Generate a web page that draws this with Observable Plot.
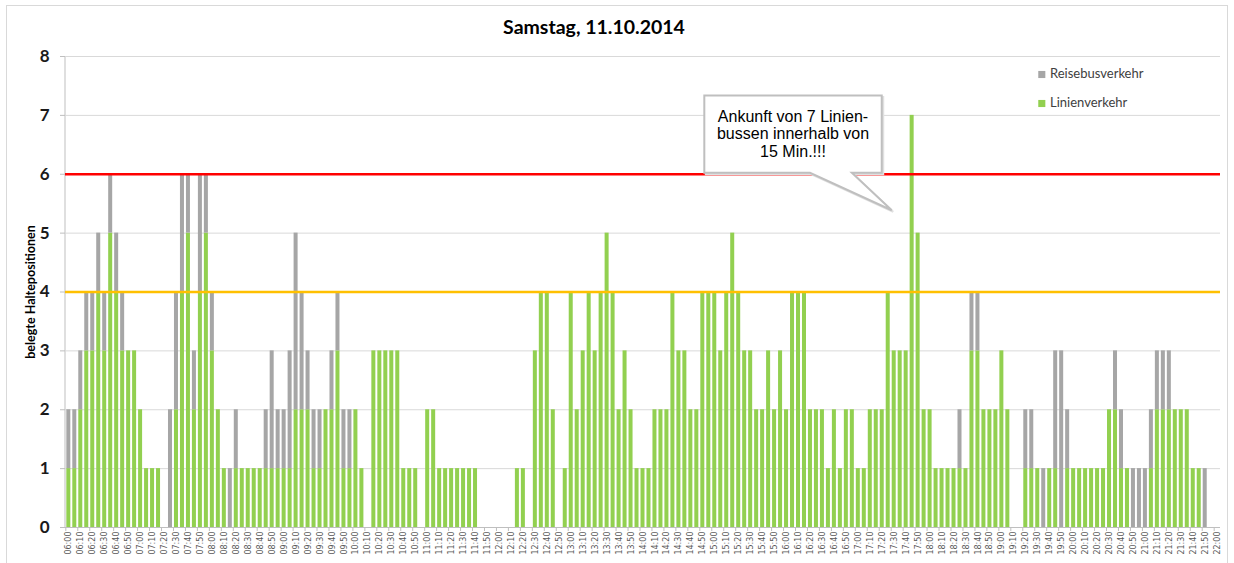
<!DOCTYPE html>
<html>
<head>
<meta charset="utf-8">
<script src="https://cdn.jsdelivr.net/npm/d3@7"></script>
<script src="https://cdn.jsdelivr.net/npm/@observablehq/plot@0.6"></script>
<style>
html, body { margin: 0; padding: 0; background: #fff; }
#chart { width: 1234px; height: 563px; overflow: hidden; }
</style>
</head>
<body>
<div id="chart"></div>
<script>
// ---------- data ----------
const title = "Samstag, 11.10.2014";
const yLabel = "belegte Haltepositionen";
const seriesNames = ["Linienverkehr", "Reisebusverkehr"];
const seriesColors = ["#92D050", "#A6A6A6"];
const legendOrder = ["Reisebusverkehr", "Linienverkehr"];
const yTicks = [0, 1, 2, 3, 4, 5, 6, 7, 8];
const limitRed = 6;
const limitOrange = 4;

// categories: 5-minute slots 06:00 … 22:00
const times = [];
for (let m = 6 * 60; m <= 22 * 60; m += 5) {
  times.push(String(Math.floor(m / 60)).padStart(2, "0") + ":" + String(m % 60).padStart(2, "0"));
}
const labelTimes = times.filter((t, i) => i % 2 === 0);

// Linienverkehr (green), one value per 5-minute slot, grouped by hour
const linien = [
  1,1,2,3,3,4,3,5,4,3,3,3,   // 06
  2,1,1,1,0,0,2,4,5,2,4,5,   // 07
  3,2,1,0,1,1,1,1,1,1,1,1,   // 08
  1,1,2,2,2,1,1,2,2,3,1,1,   // 09
  2,1,0,3,3,3,3,3,1,1,1,0,   // 10
  2,2,1,1,1,1,1,1,1,0,0,0,   // 11
  0,0,0,1,1,0,3,4,4,2,0,1,   // 12
  4,2,3,4,3,4,5,4,2,3,2,1,   // 13
  1,1,2,2,2,4,3,3,2,2,4,4,   // 14
  4,3,4,5,4,3,3,2,2,3,2,3,   // 15
  2,4,4,4,2,2,2,1,2,1,2,2,   // 16
  1,1,2,2,2,4,3,3,3,7,5,2,   // 17
  2,1,1,1,1,1,1,3,3,2,2,2,   // 18
  3,2,0,0,1,1,1,0,1,1,0,1,   // 19
  1,1,1,1,1,1,2,2,1,1,0,0,   // 20
  0,1,2,2,2,2,2,2,1,1,0,0,   // 21
  0                          // 22:00
];

// Reisebusverkehr (grey), stacked on top
const reisebus = [
  1,1,1,1,1,1,1,1,1,1,0,0,   // 06
  0,0,0,0,0,2,2,2,1,1,2,1,   // 07
  1,0,0,1,1,0,0,0,0,1,2,1,   // 08
  1,2,3,2,1,1,1,0,1,1,1,1,   // 09
  0,0,0,0,0,0,0,0,0,0,0,0,   // 10
  0,0,0,0,0,0,0,0,0,0,0,0,   // 11
  0,0,0,0,0,0,0,0,0,0,0,0,   // 12
  0,0,0,0,0,0,0,0,0,0,0,0,   // 13
  0,0,0,0,0,0,0,0,0,0,0,0,   // 14
  0,0,0,0,0,0,0,0,0,0,0,0,   // 15
  0,0,0,0,0,0,0,0,0,0,0,0,   // 16
  0,0,0,0,0,0,0,0,0,0,0,0,   // 17
  0,0,0,0,0,1,0,1,1,0,0,0,   // 18
  0,0,0,0,1,1,0,1,0,2,3,1,   // 19
  0,0,0,0,0,0,0,1,1,0,1,1,   // 20
  1,1,1,1,1,0,0,0,0,0,1,0,   // 21
  0                          // 22:00
];

// callout annotation (anchored to data coordinates)
const calloutLines = ["Ankunft von 7 Linien-", "bussen innerhalb von", "15 Min.!!!"];
const callout = {
  left: "14:50", right: "17:20", top: 7.33, bottom: 6,
  tailFrom: "16:20", tailTo: "16:55", tipX: "17:30", tipY: 5.38
};

// ---------- build ----------
const rows = [];
times.forEach((t, i) => {
  rows.push({ time: t, series: "Linienverkehr", value: linien[i] });
  rows.push({ time: t, series: "Reisebusverkehr", value: reisebus[i] });
});

function bandCenter(x, t) {
  const bw = typeof x.bandwidth === "function" ? x.bandwidth() : 0;
  return x(t) + bw / 2;
}

const frameLines = (index, scales, values, dim) => {
  const g = d3.create("svg:g");
  g.append("rect")
    .attr("x", 6.5).attr("y", 5.5)
    .attr("width", dim.width - 13).attr("height", dim.height + 20)
    .attr("fill", "none").attr("stroke", "#D9D9D9");
  g.append("line")
    .attr("x1", dim.marginLeft).attr("x2", dim.marginLeft)
    .attr("y1", dim.marginTop).attr("y2", dim.height - dim.marginBottom)
    .attr("stroke", "#BFBFBF");
  return g.node();
};

const calloutMark = (index, scales) => {
  const x = scales.x, y = scales.y;
  const L = bandCenter(x, callout.left) + 2;
  const R = bandCenter(x, callout.right);
  const T = y(callout.top);
  const B = y(callout.bottom) - 1;
  const t1 = bandCenter(x, callout.tailFrom);
  const t2 = bandCenter(x, callout.tailTo);
  const tx = bandCenter(x, callout.tipX) - 2;
  const ty = y(callout.tipY);
  const d = `M${L},${T}H${R}V${B}H${t2}L${tx},${ty}L${t1},${B}H${L}Z`;
  const g = d3.create("svg:g");
  g.append("path").attr("d", d).attr("transform", "translate(1.5,1.5)")
    .attr("fill", "#E6E6E6").attr("stroke", "#E0E0E0").attr("stroke-width", 2);
  g.append("path").attr("d", d).attr("fill", "#fff")
    .attr("stroke", "#BFBFBF").attr("stroke-width", 2).attr("stroke-linejoin", "miter");
  const cx = (L + R) / 2;
  const offs = [21, 38.5, 56];
  calloutLines.forEach((s, i) => {
    g.append("text").attr("x", cx).attr("y", T + offs[i])
      .attr("text-anchor", "middle").attr("dominant-baseline", "central")
      .attr("font-family", "'Liberation Sans', Arial, sans-serif")
      .attr("font-size", 16).attr("fill", "#000").text(s);
  });
  return g.node();
};

const legendMarks = [];
legendOrder.forEach((name, i) => {
  const col = seriesColors[seriesNames.indexOf(name)];
  legendMarks.push(Plot.dot([name], {
    frameAnchor: "top-right", dx: -178.7, dy: 18 + i * 29,
    symbol: "square", r: 4, fill: col, stroke: null
  }));
  legendMarks.push(Plot.text([name], {
    frameAnchor: "top-right", dx: -170.5, dy: 17.5 + i * 29,
    textAnchor: "start", lineAnchor: "middle", fontSize: 13, fill: "#404040"
  }));
});

const chart = Plot.plot({
  width: 1234,
  height: 563,
  marginLeft: 65,
  marginRight: 14,
  marginTop: 56,
  marginBottom: 36,
  style: { fontFamily: "Lato, 'Open Sans', sans-serif", background: "#fff", overflow: "visible" },
  x: { type: "band", domain: times, paddingInner: 0.33, paddingOuter: 0.22, axis: null },
  y: { domain: [0, 8], axis: null },
  color: { domain: seriesNames, range: seriesColors },
  marks: [
    frameLines,
    Plot.gridY(yTicks, { stroke: "#D9D9D9", strokeOpacity: 1 }),
    Plot.barY(rows, { x: "time", y: "value", fill: "series" }),
    Plot.ruleY([0], { stroke: "#BFBFBF" }),
    Plot.axisY(yTicks, { tickSize: 5, tickFormat: () => "", stroke: "#BFBFBF", label: null }),
    Plot.axisY(yTicks, { tickSize: 0, tickPadding: 16, tickFormat: (d) => String(d),
      fontSize: 17, fontWeight: "bold", fill: "#1a1a1a", label: null }),
    Plot.axisX(labelTimes, { tickSize: 4, tickFormat: () => "", stroke: "#BFBFBF", dx: -3, label: null }),
    Plot.axisX(labelTimes, { tickSize: 0, tickPadding: 4, tickRotate: -90, fontSize: 8,
      fontFamily: "'DejaVu Sans', sans-serif", fill: "#595959", label: null }),
    Plot.ruleY([limitOrange], { stroke: "#FFC000", strokeWidth: 2.5 }),
    Plot.ruleY([limitRed], { stroke: "#FF0000", strokeWidth: 2.5 }),
    calloutMark,
    ...legendMarks,
    Plot.text([title], { frameAnchor: "top", dx: -49, dy: -29, lineAnchor: "middle",
      fontSize: 19.5, fontWeight: "bold", fill: "#000" }),
    Plot.text([yLabel], { frameAnchor: "left", dx: -35, dy: 0, rotate: -90, textAnchor: "middle",
      lineAnchor: "middle", fontSize: 12.5, fontWeight: "bold", fill: "#000" })
  ]
});

document.getElementById("chart").appendChild(chart);
</script>
</body>
</html>
